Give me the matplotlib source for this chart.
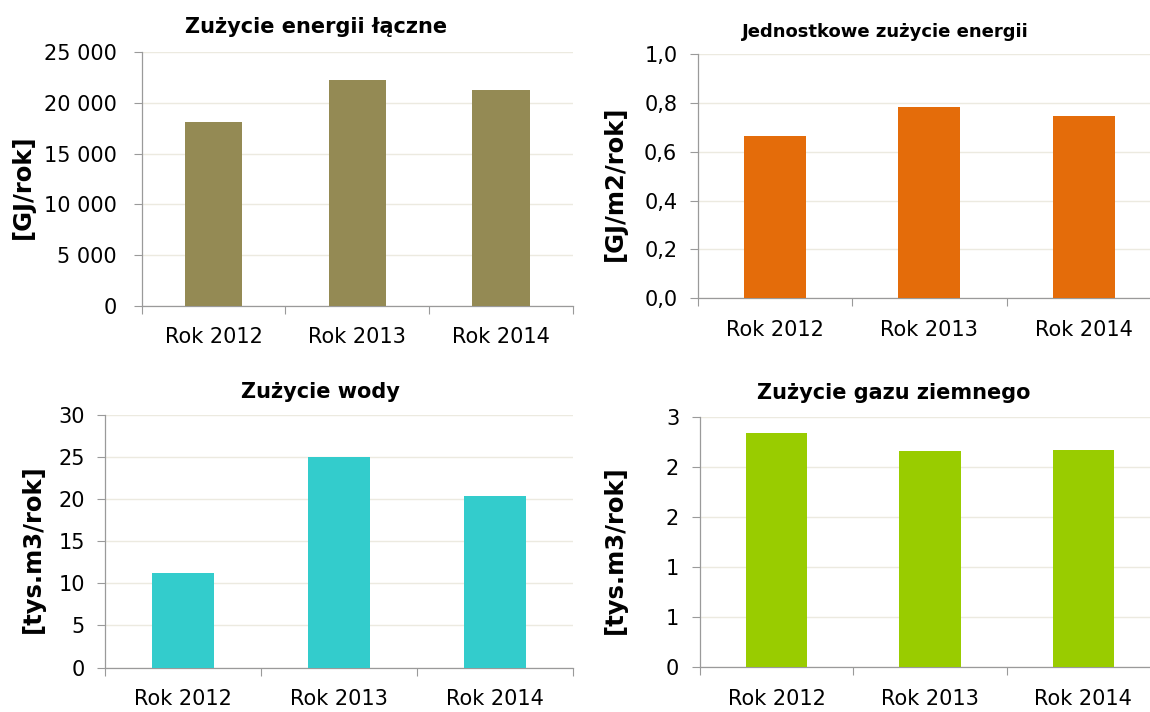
import numpy as np
import matplotlib
matplotlib.use("Agg")
import matplotlib.pyplot as plt

# categories
years = ["Rok 2012", "Rok 2013", "Rok 2014"]

# series values
energy_total = [18150, 22240, 21250]      # GJ/rok
energy_unit = [0.663, 0.784, 0.747]       # GJ/m2/rok
water = [11.2, 25.0, 20.4]                # tys.m3/rok
gas = [2.34, 2.16, 2.17]                  # tys.m3/rok

# y axis ticks
energy_ticks = [0, 5000, 10000, 15000, 20000, 25000]
unit_ticks = [0.0, 0.2, 0.4, 0.6, 0.8, 1.0]
water_ticks = [0, 5, 10, 15, 20, 25, 30]
gas_ticks = [0, 0.5, 1.0, 1.5, 2.0, 2.5]
gas_tick_labels = ["0", "1", "1", "2", "2", "3"]  # Excel rounds to 0 decimals

W, H = 1150, 712
GRID = "#ECEAE0"
AXIS = "#9A9A9A"

plt.rcParams["font.family"] = ["DejaVu Sans"]

fig = plt.figure(figsize=(W / 100, H / 100), dpi=100)


def px_axes(x0, x1, ytop, ybot):
    # axes from pixel box (origin top-left)
    return fig.add_axes([x0 / W, 1 - ybot / H, (x1 - x0) / W, (ybot - ytop) / H])


def style_axes(ax, values, color, ticks, labels, ylabel, label_x, ypad):
    x = np.arange(len(years))
    ax.bar(x, values, width=0.4, color=color, zorder=3)
    ax.set_xlim(-0.5, len(years) - 0.5)
    ax.set_ylim(ticks[0], ticks[-1])
    ax.set_yticks(ticks)
    ax.set_yticklabels(labels)
    # category boundaries as major ticks, names as minor
    ax.set_xticks(np.arange(len(years) + 1) - 0.5)
    ax.set_xticklabels([])
    ax.set_xticks(x, minor=True)
    ax.set_xticklabels(years, minor=True)
    ax.tick_params(axis="x", which="major", length=6, width=0.8, color=AXIS, direction="out")
    ax.tick_params(axis="x", which="minor", length=0, pad=15.5, labelsize=15)
    ax.tick_params(axis="y", length=6, width=0.8, color=AXIS, pad=ypad, labelsize=15)
    for s in ["top", "right"]:
        ax.spines[s].set_visible(False)
    for s in ["left", "bottom"]:
        ax.spines[s].set_color(AXIS)
        ax.spines[s].set_linewidth(0.9)
    ax.grid(axis="y", color=GRID, linewidth=1.0, zorder=0)
    ax.set_axisbelow(True)
    ax.set_ylabel(ylabel, fontsize=17.5, fontweight="bold")
    ax.yaxis.set_label_coords(label_x, 0.47)


def thousands(v):
    return f"{int(v):,}".replace(",", " ")


ax1 = px_axes(141.7, 572.8, 52.3, 305.7)
style_axes(ax1, energy_total, "#948A54", energy_ticks,
           [thousands(t) for t in energy_ticks], "[GJ/rok]", -0.248, 12)

ax2 = px_axes(697.5, 1161, 54.0, 298.3)
style_axes(ax2, energy_unit, "#E46C0A", unit_ticks,
           [f"{t:.1f}".replace(".", ",") for t in unit_ticks], "[GJ/m2/rok]", -0.152, 8.5)

ax3 = px_axes(105, 573.3, 415.0, 667.5)
style_axes(ax3, water, "#33CCCC", water_ticks,
           [str(t) for t in water_ticks], "[tys.m3/rok]", -0.128, 8.5)

ax4 = px_axes(700, 1160, 417.3, 667.3)
style_axes(ax4, gas, "#99CC00", gas_ticks, gas_tick_labels, "[tys.m3/rok]", -0.159, 9)

# titles placed by pixel centre
titles = [("Zużycie energii łączne", 316, 27, 15),
          ("Jednostkowe zużycie energii", 885, 32, 13),
          ("Zużycie wody", 320, 392, 15),
          ("Zużycie gazu ziemnego", 894, 393, 15)]
for text, cx, cy, size in titles:
    fig.text(cx / W, 1 - cy / H, text, ha="center", va="center",
             fontsize=size, fontweight="bold")

fig.savefig("out.png", dpi=100)
